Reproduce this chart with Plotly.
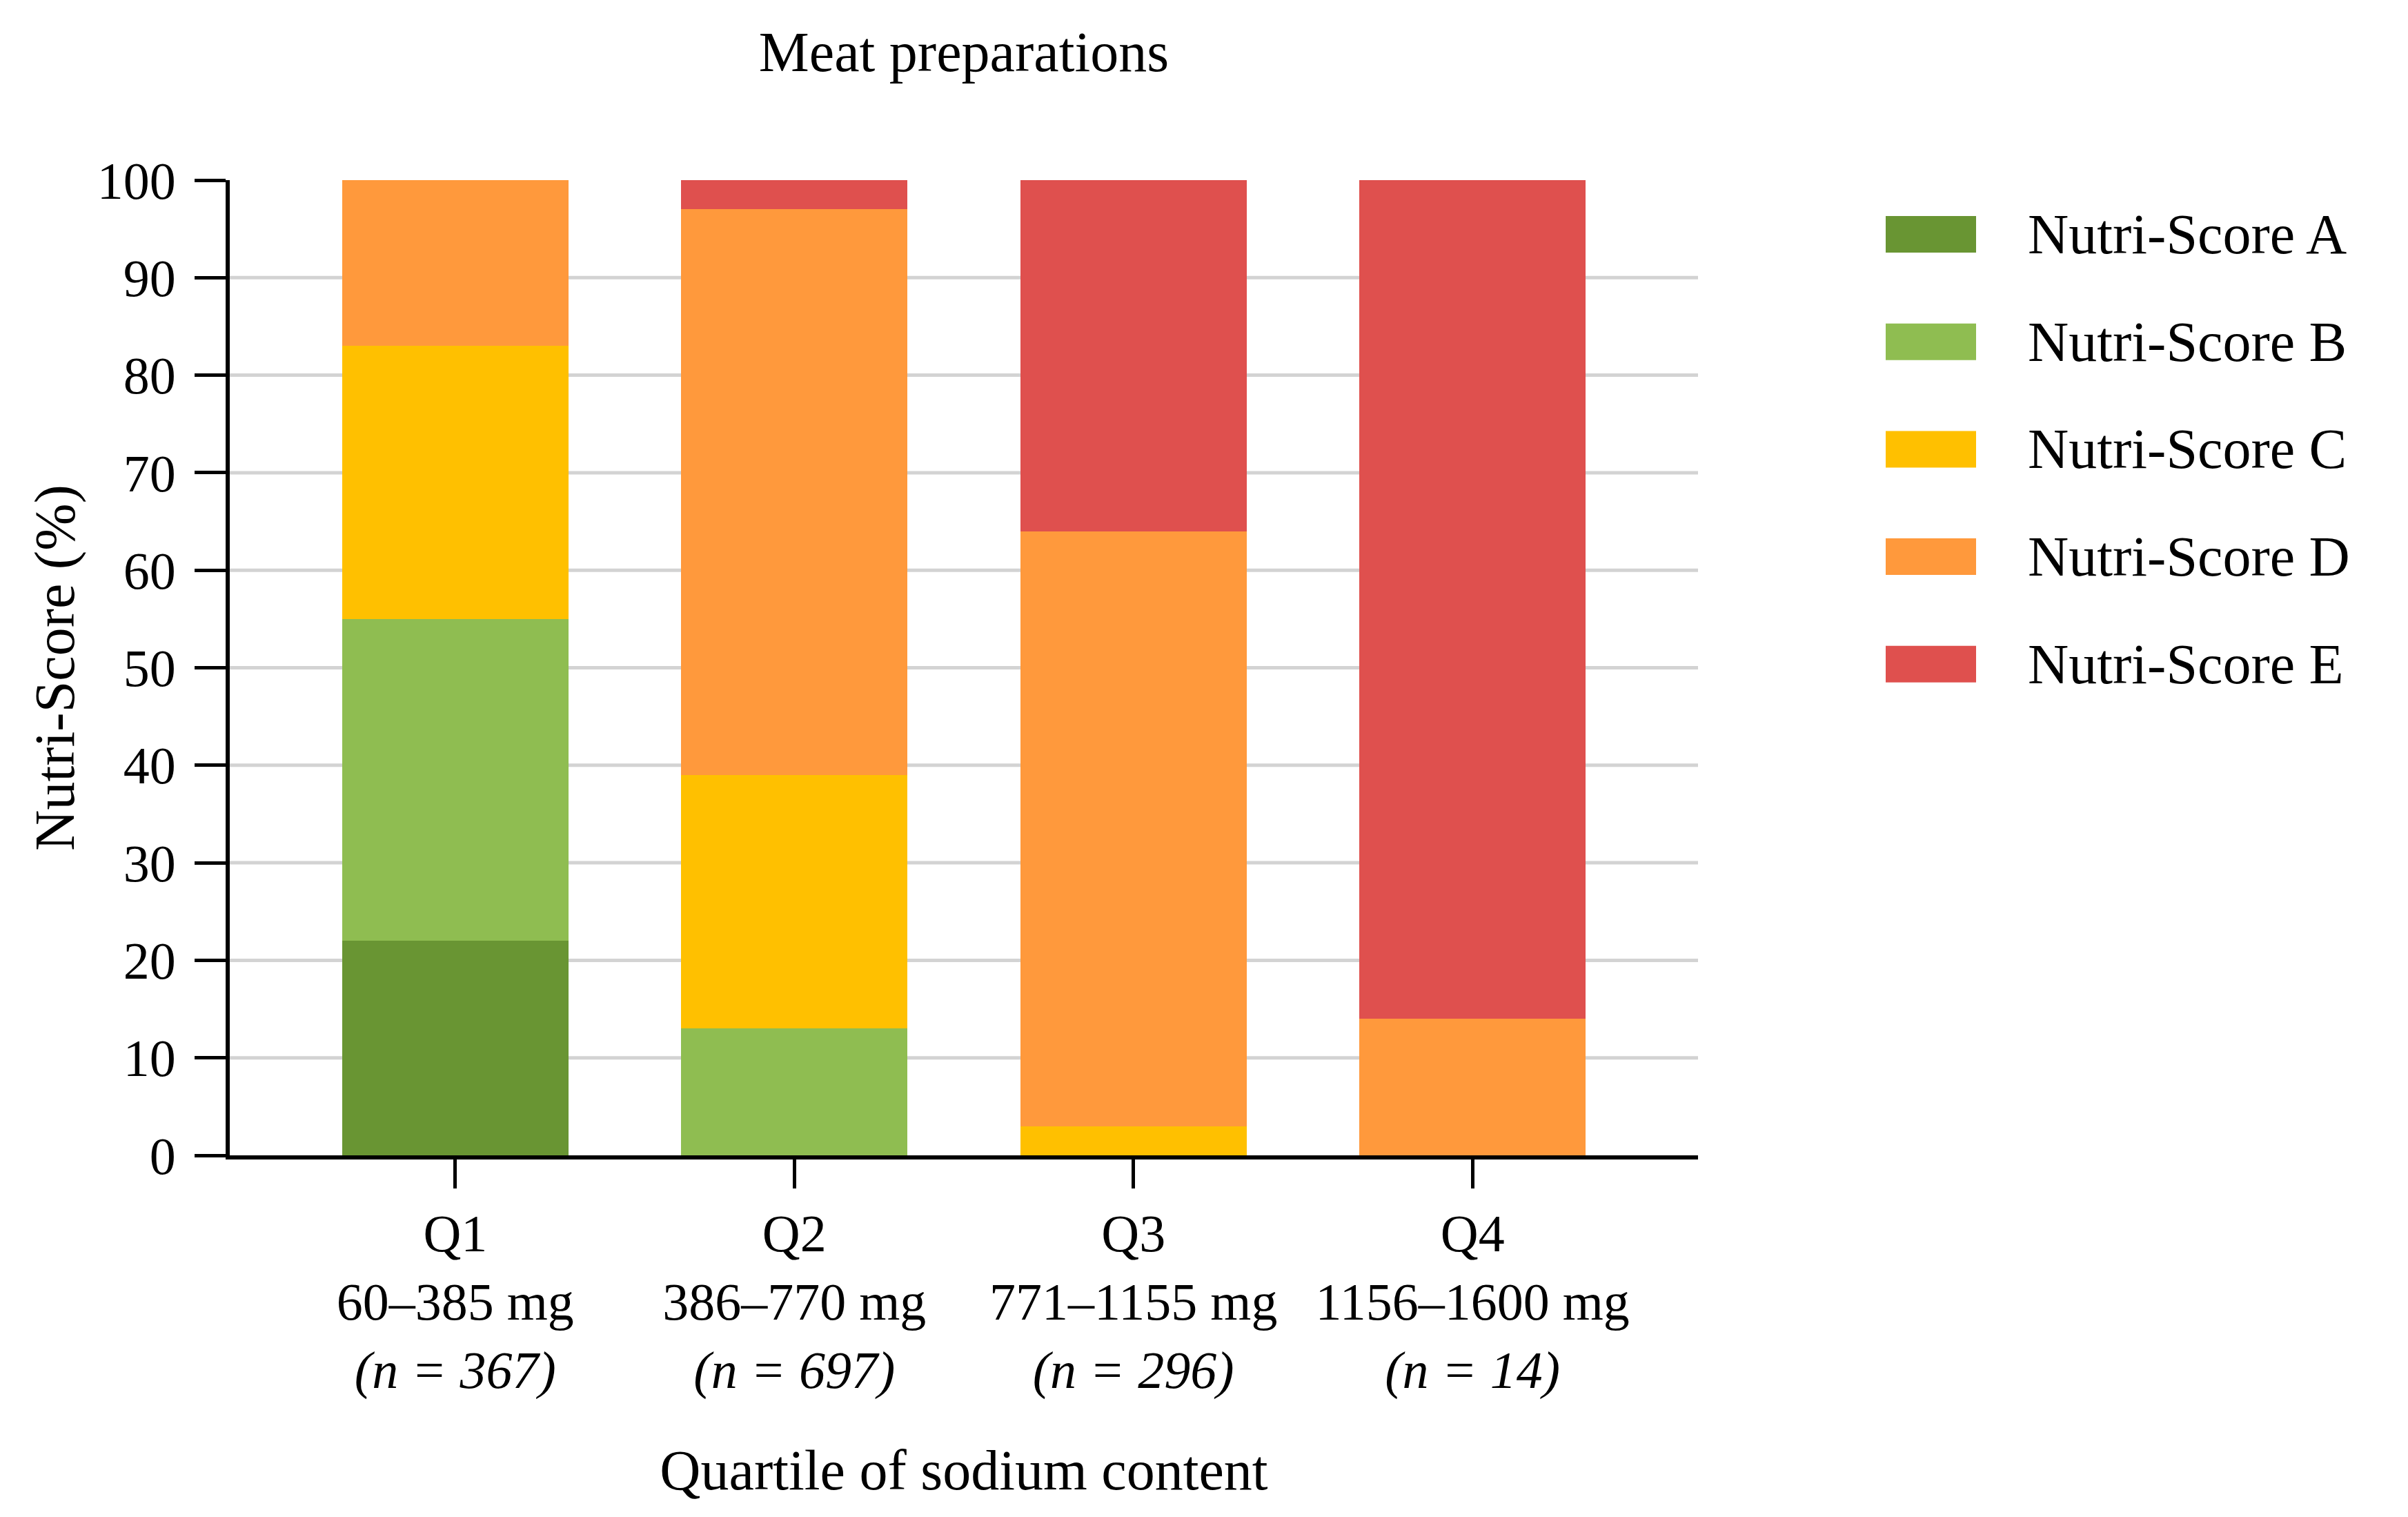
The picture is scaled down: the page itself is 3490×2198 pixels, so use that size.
import plotly.graph_objects as go

# ---- data ----
quartiles = ["Q1", "Q2", "Q3", "Q4"]
sodium_ranges = ["60–385 mg", "386–770 mg", "771–1155 mg", "1156–1600 mg"]
n_counts = [367, 697, 296, 14]

series_names = ["Nutri-Score A", "Nutri-Score B", "Nutri-Score C", "Nutri-Score D", "Nutri-Score E"]
score_a = [22, 0, 0, 0]
score_b = [33, 13, 0, 0]
score_c = [28, 26, 3, 0]
score_d = [17, 58, 61, 14]
score_e = [0, 3, 36, 86]
series_values = [score_a, score_b, score_c, score_d, score_e]
series_colors = ["#699533", "#8FBD51", "#FFC000", "#FF993C", "#DF504E"]

y_ticks = [0, 10, 20, 30, 40, 50, 60, 70, 80, 90, 100]

title_text = "Meat preparations"
x_title = "Quartile of sodium content"
y_title = "Nutri-Score (%)"

FONT = "Liberation Serif"
FS_TICK = 76
FS_TEXT = 82

tick_text = [f"{q}<br>{r}<br><i>(n = {n})</i>" for q, r, n in zip(quartiles, sodium_ranges, n_counts)]

fig = go.Figure()
for name, vals, col in zip(series_names, series_values, series_colors):
    fig.add_trace(go.Bar(x=quartiles, y=vals, name=name, marker=dict(color=col, line=dict(width=0)),
                         showlegend=False))

# plot geometry (pixels, figure coords; page has an 8px body margin)
OFF = 8
W, H = 3490 - OFF, 2198 - OFF
ML, MT = 333 - OFF, 261 - OFF
MR = W - (2461 - OFF)
MB = H - (1674 - OFF)
plot_w = W - ML - MR
plot_h = H - MT - MB

shapes = []
# gridlines (excluding 0 and 100)
for v in y_ticks[1:-1]:
    shapes.append(dict(type="line", xref="paper", x0=0, x1=1, yref="y", y0=v, y1=v,
                       line=dict(color="#D3D3D3", width=5), layer="below"))

# manual legend with large swatches
annotations = []
leg_x0 = (2733 - OFF - ML) / plot_w
leg_x1 = (2864 - OFF - ML) / plot_w
txt_x = (2937 - OFF - ML) / plot_w
half_h = 26.5 / plot_h
for i, (name, col) in enumerate(zip(series_names, series_colors)):
    cy_px = 339.5 - OFF + i * 155.7
    cy = (H - MB - cy_px) / plot_h
    shapes.append(dict(type="rect", xref="paper", yref="paper", x0=leg_x0, x1=leg_x1,
                       y0=cy - half_h, y1=cy + half_h, fillcolor=col, line=dict(width=0)))
    annotations.append(dict(xref="paper", yref="paper", x=txt_x, y=cy, xanchor="left", yanchor="middle",
                            text=name, showarrow=False, font=dict(family=FONT, size=FS_TEXT, color="black")))

fig.update_layout(
    width=W, height=H,
    margin=dict(l=ML, r=MR, t=MT, b=MB, pad=0),
    plot_bgcolor="white", paper_bgcolor="white",
    barmode="stack", bargap=0.332,
    font=dict(family=FONT, size=FS_TICK, color="black"),
    title=dict(text=title_text, x=(ML + plot_w / 2) / W, xanchor="center", y=1 - 66 / H, yanchor="middle",
               yref="container", font=dict(family=FONT, size=FS_TEXT, color="black")),
    shapes=shapes,
    annotations=annotations,
    xaxis=dict(
        range=[-0.665, 3.665], tickmode="array", tickvals=quartiles, ticktext=tick_text,
        showline=True, linecolor="black", linewidth=6,
        ticks="outside", ticklen=42, tickwidth=5, tickcolor="black",
        showgrid=False, zeroline=False,
        ticklabelstandoff=0,
        title=dict(text=x_title, standoff=76, font=dict(family=FONT, size=FS_TEXT)),
        tickfont=dict(family=FONT, size=FS_TICK),
    ),
    yaxis=dict(
        range=[0, 100], tickmode="array", tickvals=y_ticks,
        showline=True, linecolor="black", linewidth=6,
        ticks="outside", ticklen=45, tickwidth=5, tickcolor="black",
        showgrid=False, zeroline=False,
        ticklabelstandoff=12,
        title=dict(text=y_title, standoff=8, font=dict(family=FONT, size=FS_TEXT)),
        tickfont=dict(family=FONT, size=FS_TICK),
    ),
)

fig.write_html("out.html")
